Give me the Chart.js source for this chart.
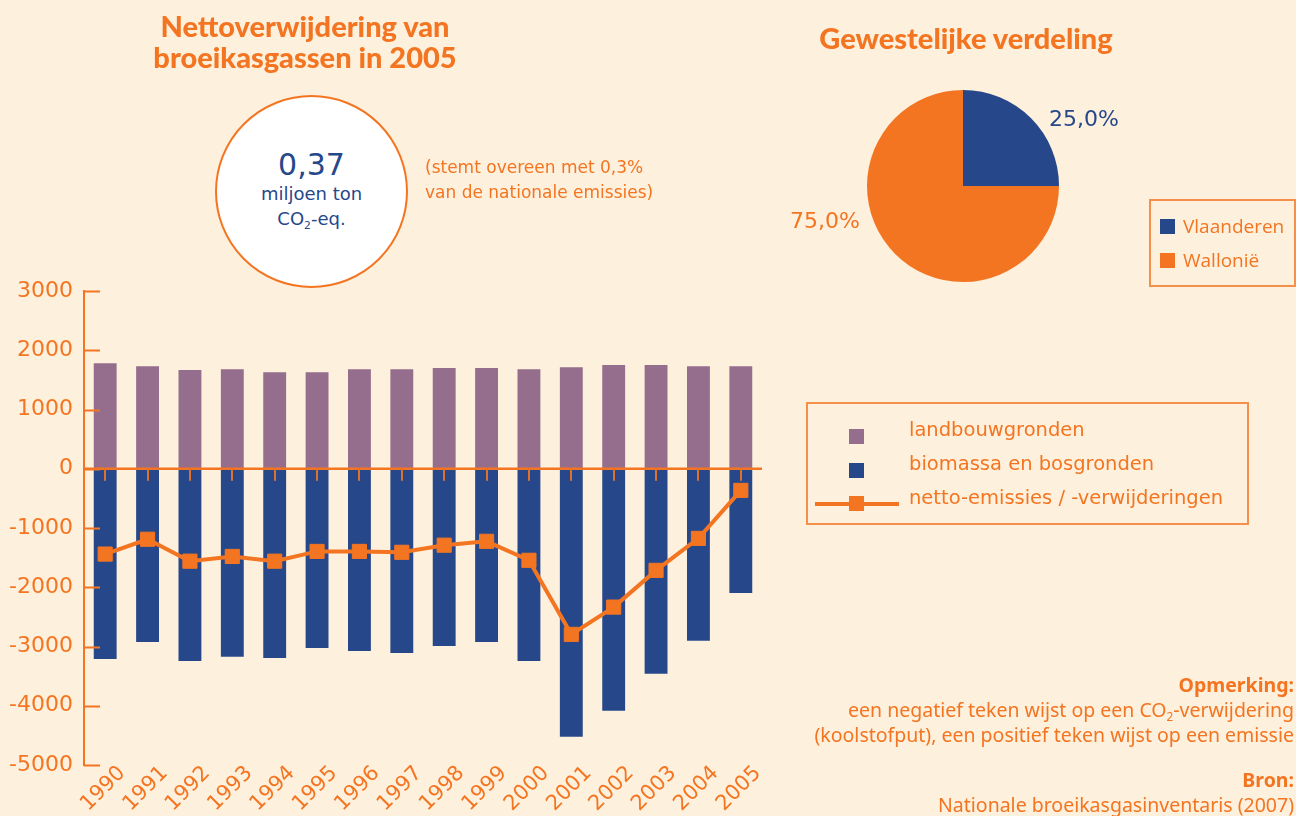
<!DOCTYPE html>
<html>
<head>
<meta charset="utf-8">
<script src="https://cdn.jsdelivr.net/npm/chart.js@4.4.1/dist/chart.umd.min.js"></script>
<style>
  body { margin: 0; width: 1296px; height: 816px; background: #fdf0dd; position: relative; overflow: hidden;
         font-family: "DejaVu Sans", sans-serif; color: #f47521; }
  .abs { position: absolute; }
  #barCanvas { position: absolute; left: 0; top: 0; }
  #pieWrap { position: absolute; left: 867px; top: 90px; width: 192px; height: 192px; }
  .title { font-family: Lato, sans-serif; font-weight: 900; font-size: 29px; text-align: center; line-height: 31px; }
  .circle { left: 215px; top: 95px; width: 193px; height: 193px; border: 2px solid #f47521; border-radius: 50%;
            background: #fff; box-sizing: border-box; color: #26488a; text-align: center; }
  .legend { border: 2px solid #f4904a; box-sizing: border-box; }
  .sw { position: absolute; width: 15px; height: 15px; }
  .note { right: 2px; text-align: right; font-family: "Noto Sans", sans-serif; font-size: 19.5px; line-height: 25px; }
  sub { font-size: 60%; vertical-align: -4px; line-height: 0; }
</style>
</head>
<body>
<canvas id="barCanvas" width="1296" height="816"></canvas>

<div class="abs title" style="left:105px; top:10px; width:400px;">Nettoverwijdering van<br>broeikasgassen in 2005</div>
<div class="abs title" style="left:766px; top:22px; width:400px;">Gewestelijke verdeling</div>

<div class="abs circle">
  <div style="font-size:30px; margin-top:52px; line-height:32px;">0,37</div>
  <div style="font-size:18px; line-height:25px;">miljoen ton</div>
  <div style="font-size:18px; line-height:25px;">CO<sub>2</sub>-eq.</div>
</div>
<div class="abs" style="left:425px; top:155px; font-size:17px; line-height:25px;">(stemt overeen met 0,3%<br>van de nationale emissies)</div>

<div id="pieWrap"><canvas id="pieCanvas"></canvas></div>
<div class="abs" id="pieLbl0" style="left:1049px; top:106px; font-size:22px; color:#26488a;"></div>
<div class="abs" id="pieLbl1" style="left:790px; top:208px; font-size:22px;"></div>

<div class="abs legend" id="pieLegend" style="left:1149px; top:199px; width:147px; height:88px;"></div>
<div class="abs legend" id="barLegend" style="left:806px; top:402px; width:443px; height:123px;"></div>

<div class="abs note" style="top:672px;"><b>Opmerking:</b><br>een negatief teken wijst op een CO<sub>2</sub>-verwijdering<br>(koolstofput), een positief teken wijst op een emissie</div>
<div class="abs note" style="top:767px;"><b>Bron:</b><br>Nationale broeikasgasinventaris (2007)</div>

<script>
const years = ['1990', '1991', '1992', '1993', '1994', '1995', '1996', '1997',
               '1998', '1999', '2000', '2001', '2002', '2003', '2004', '2005'];
const landbouwgronden = [1780, 1730, 1665, 1680, 1630, 1630, 1680, 1680,
                         1700, 1700, 1680, 1715, 1750, 1750, 1730, 1730];
const biomassaBosgronden = [-3210, -2925, -3245, -3175, -3195, -3025, -3075, -3110,
                            -2990, -2925, -3245, -4525, -4085, -3460, -2905, -2095];
const nettoEmissies = [-1440, -1190, -1560, -1480, -1560, -1395, -1395, -1410,
                       -1290, -1225, -1545, -2795, -2335, -1715, -1175, -365];
const seriesNames = ['landbouwgronden', 'biomassa en bosgronden', 'netto-emissies / -verwijderingen'];
const yTicks = [3000, 2000, 1000, 0, -1000, -2000, -3000, -4000, -5000];

const regions = ['Vlaanderen', 'Wallonië'];
const regionShares = [25, 75];

const ORANGE = '#f47521';
const BLUE = '#26488a';
const PURPLE = '#946e8c';

// axis tick marks pointing into the plot, plus the zero line with its small ticks
const axisMarks = {
  id: 'axisMarks',
  afterDatasetsDraw(chart) {
    const { ctx, chartArea, scales: { x, y } } = chart;
    ctx.save();
    ctx.strokeStyle = ORANGE;
    ctx.lineWidth = 2;
    y.ticks.forEach((t, i) => {
      const py = Math.round(y.getPixelForTick(i)) + 0.5;
      ctx.beginPath();
      ctx.moveTo(chartArea.left, py);
      ctx.lineTo(chartArea.left + 16, py);
      ctx.stroke();
    });
    const y0 = y.getPixelForValue(0);
    ctx.lineWidth = 2.5;
    ctx.beginPath();
    ctx.moveTo(chartArea.left, y0);
    ctx.lineTo(chartArea.right, y0);
    ctx.stroke();
    ctx.strokeStyle = '#e0702e';
    ctx.lineWidth = 2;
    x.ticks.forEach((t, i) => {
      const px = Math.round(x.getPixelForTick(i));
      ctx.beginPath();
      ctx.moveTo(px, y0);
      ctx.lineTo(px, y0 + 12);
      ctx.stroke();
    });
    ctx.restore();
  }
};

new Chart(document.getElementById('barCanvas'), {
  data: {
    labels: years,
    datasets: [
      { type: 'line', label: seriesNames[2], data: nettoEmissies, borderColor: ORANGE, borderWidth: 4,
        backgroundColor: ORANGE, pointStyle: 'rect', pointRadius: 10, pointBorderWidth: 1,
        pointBorderColor: ORANGE, pointBackgroundColor: ORANGE, tension: 0, order: 0 },
      { type: 'bar', label: seriesNames[0], data: landbouwgronden, backgroundColor: PURPLE,
        barPercentage: 0.54, categoryPercentage: 1, order: 1 },
      { type: 'bar', label: seriesNames[1], data: biomassaBosgronden, backgroundColor: BLUE,
        barPercentage: 0.54, categoryPercentage: 1, order: 1 }
    ]
  },
  options: {
    responsive: false,
    animation: false,
    layout: { padding: { top: 291, right: 534, bottom: 0, left: 0 } },
    plugins: { legend: { display: false }, tooltip: { enabled: false } },
    scales: {
      x: {
        stacked: true,
        grid: { display: false },
        border: { display: false },
        ticks: { color: ORANGE, font: { family: 'DejaVu Sans', size: 21 }, minRotation: 45, maxRotation: 45,
                 padding: -12, labelOffset: 17 },
        afterFit(scale) { scale.height = 51; }
      },
      y: {
        min: -5000, max: 3000,
        afterBuildTicks(scale) { scale.ticks = yTicks.map(v => ({ value: v })); },
        grid: { display: false, drawTicks: false },
        border: { display: true, color: ORANGE, width: 2 },
        ticks: { color: ORANGE, font: { family: 'DejaVu Sans', size: 22 }, padding: 11,
                 callback: v => String(v) },
        afterFit(scale) { scale.width = 84; }
      }
    }
  },
  plugins: [axisMarks]
});

new Chart(document.getElementById('pieCanvas'), {
  type: 'pie',
  data: {
    labels: regions,
    datasets: [{ data: regionShares, backgroundColor: [BLUE, ORANGE], borderWidth: 0 }]
  },
  options: {
    responsive: true,
    maintainAspectRatio: false,
    animation: false,
    plugins: { legend: { display: false }, tooltip: { enabled: false } }
  }
});

// percentage labels and legends built from the data arrays
const total = regionShares.reduce((a, b) => a + b, 0);
regionShares.forEach((v, i) => {
  document.getElementById('pieLbl' + i).textContent = (v / total * 100).toFixed(1).replace('.', ',') + '%';
});

const pieLegend = document.getElementById('pieLegend');
regions.forEach((name, i) => {
  pieLegend.insertAdjacentHTML('beforeend',
    `<div class="sw" style="left:9px; top:${18 + i * 34}px; background:${[BLUE, ORANGE][i]}"></div>` +
    `<div class="abs" style="left:32px; top:${12 + i * 34}px; font-family:'Open Sans',sans-serif; font-size:19px;">${name}</div>`);
});

const barLegend = document.getElementById('barLegend');
[PURPLE, BLUE].forEach((c, i) => {
  barLegend.insertAdjacentHTML('beforeend',
    `<div class="sw" style="left:41px; top:${25 + i * 34}px; background:${c}"></div>`);
});
barLegend.insertAdjacentHTML('beforeend',
  `<div class="abs" style="left:7px; top:98px; width:84px; height:4px; background:${ORANGE}"></div>` +
  `<div class="sw" style="left:41px; top:92px; background:${ORANGE}"></div>`);
seriesNames.forEach((name, i) => {
  barLegend.insertAdjacentHTML('beforeend',
    `<div class="abs" style="left:101px; top:${14 + i * 34}px; font-size:19.5px;">${name}</div>`);
});
</script>
</body>
</html>
